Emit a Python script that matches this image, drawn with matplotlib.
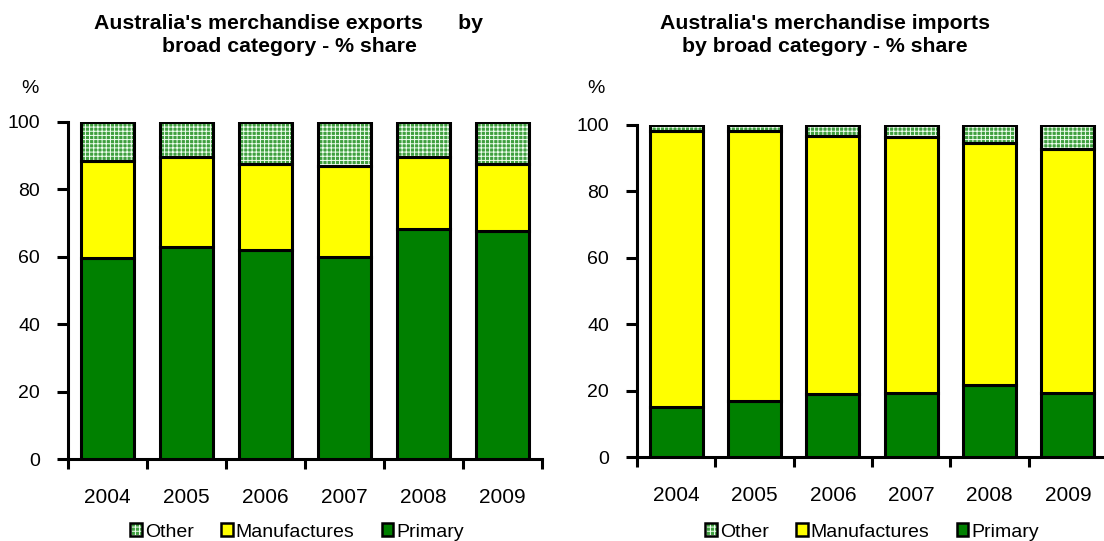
import matplotlib
matplotlib.use("Agg")
import matplotlib.pyplot as plt
from matplotlib.patches import Patch
from matplotlib.legend_handler import HandlerTuple
import numpy as np

plt.rcParams['font.family'] = ['Liberation Sans', 'DejaVu Sans']
plt.rcParams['hatch.linewidth'] = 0.7

years = ["2004", "2005", "2006", "2007", "2008", "2009"]

exp_primary = [59.6, 62.8, 62.1, 59.9, 68.3, 67.8]
exp_manuf = [28.7, 26.7, 25.4, 26.9, 21.2, 19.7]
exp_other = [11.7, 10.5, 12.5, 13.2, 10.5, 12.5]

imp_primary = [15.1, 16.9, 19.1, 19.3, 21.7, 19.3]
imp_manuf = [83.2, 81.4, 77.7, 77.2, 72.9, 73.6]
imp_other = [1.7, 1.7, 3.2, 3.5, 5.4, 7.1]

titles = ["Australia's merchandise exports      by\nbroad category - % share",
          "Australia's merchandise imports\nby broad category - % share"]
legend_labels = ["Other", "Manufactures", "Primary"]

GREEN = "#008000"
YELLOW = "#FFFF00"
OTHER_FACE = "#3f9f3f"
OTHER_HATCH = "#f0fff0"

W, H = 1104, 541
fig = plt.figure(figsize=(W / 100, H / 100), dpi=100)
ax1 = fig.add_axes([68 / W, (H - 459) / H, 474 / W, 337 / H])
ax2 = fig.add_axes([637 / W, (H - 457.3) / H, 470 / W, 332.3 / H])

def draw(ax, prim, manuf, other, title, title_x, pct_x, leg_x):
    x = np.arange(len(years))
    w = 0.68
    lw = 2.2
    prim = np.array(prim); manuf = np.array(manuf); other = np.array(other)
    ax.bar(x, prim, w, color=GREEN, edgecolor="black", linewidth=lw, zorder=3)
    ax.bar(x, manuf, w, bottom=prim, color=YELLOW, edgecolor="black", linewidth=lw, zorder=3)
    ax.bar(x, other, w, bottom=prim + manuf, color=OTHER_FACE, edgecolor=OTHER_HATCH,
           hatch="++++", linewidth=0, zorder=3)
    ax.bar(x, other, w, bottom=prim + manuf, fill=False, edgecolor="black", linewidth=lw, zorder=4)
    ax.set_xlim(-0.5, len(years) - 0.5)
    ax.set_ylim(0, 100)
    ax.set_yticks([0, 20, 40, 60, 80, 100])
    ax.set_xticks(x)
    ax.set_xticklabels(years)
    ax.set_xticks(np.arange(-0.5, len(years)), minor=True)
    ax.tick_params(axis='x', which='major', length=0, pad=21, labelsize=15)
    ax.tick_params(axis='x', which='minor', length=7, width=2.2, direction='out')
    ax.tick_params(axis='y', length=8, width=2.2, direction='out', labelsize=14, pad=12)
    for s in ['top', 'right']:
        ax.spines[s].set_visible(False)
    for s in ['left', 'bottom']:
        ax.spines[s].set_linewidth(2.2)
    fig.text(title_x, 1 - 35 / H, title, ha='center', va='center',
             fontsize=15.3, fontweight='bold', linespacing=1.3)
    fig.text(pct_x, 1 - 88 / H, "%", ha='center', va='center', fontsize=14)
    other_handle = (Patch(facecolor=OTHER_FACE, edgecolor=OTHER_HATCH, hatch="++++", linewidth=0),
                    Patch(fill=False, edgecolor="black", linewidth=1.8))
    handles = [other_handle,
               Patch(facecolor=YELLOW, edgecolor="black", linewidth=1.8),
               Patch(facecolor=GREEN, edgecolor="black", linewidth=1.8)]
    fig.legend(handles, legend_labels, loc='center', bbox_to_anchor=(leg_x, 1 - 532 / H),
               ncol=3, frameon=False, fontsize=14, handlelength=0.6, handleheight=0.6,
               handletextpad=0.15, columnspacing=1.4, borderaxespad=0, borderpad=0,
               handler_map={tuple: HandlerTuple(ndivide=1, pad=0)})

draw(ax1, exp_primary, exp_manuf, exp_other, titles[0], 289 / W, 30 / W, 297 / W)
draw(ax2, imp_primary, imp_manuf, imp_other, titles[1], 825 / W, 596 / W, 872 / W)

fig.savefig("out.png", dpi=100)
